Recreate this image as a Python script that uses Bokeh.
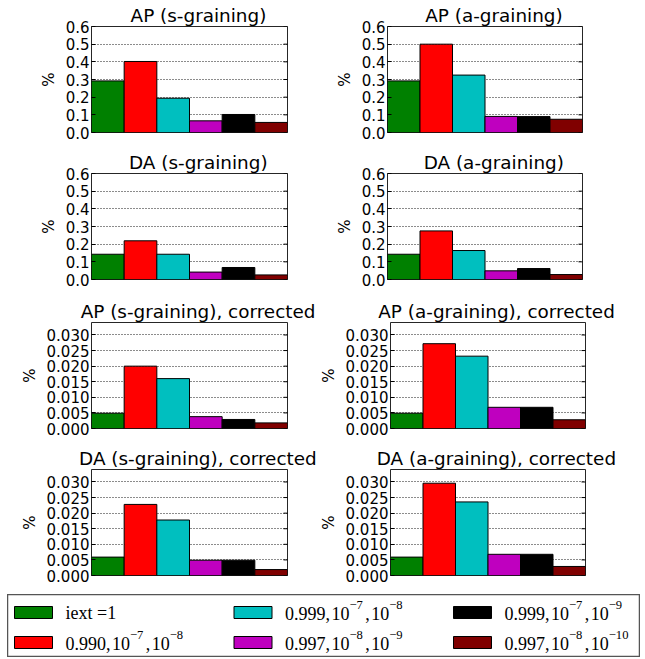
from bokeh.plotting import figure
from bokeh.models import Range1d, PrintfTickFormatter, FixedTicker, ColumnDataSource, Spacer
from bokeh.layouts import column, row
from bokeh.embed import file_html
from bokeh.resources import INLINE
from bokeh.core.properties import value

# ---------------- data ----------------
series_labels = ["iext =1", "0.990,10⁻⁷,10⁻⁸", "0.999,10⁻⁷,10⁻⁸",
                 "0.997,10⁻⁸,10⁻⁹", "0.999,10⁻⁷,10⁻⁹", "0.997,10⁻⁸,10⁻¹⁰"]
colors = ["#008000", "#ff0000", "#00bfbf", "#bf00bf", "#000000", "#800000"]

titles = ["AP (s-graining)", "AP (a-graining)",
          "DA (s-graining)", "DA (a-graining)",
          "AP (s-graining), corrected", "AP (a-graining), corrected",
          "DA (s-graining), corrected", "DA (a-graining), corrected"]

ap_s = [0.292, 0.402, 0.194, 0.066, 0.102, 0.057]
ap_a = [0.292, 0.500, 0.325, 0.091, 0.090, 0.075]
da_s = [0.143, 0.219, 0.143, 0.042, 0.068, 0.026]
da_a = [0.143, 0.275, 0.164, 0.049, 0.062, 0.028]
ap_s_corr = [0.0049, 0.0200, 0.0160, 0.0038, 0.0029, 0.0018]
ap_a_corr = [0.0049, 0.0272, 0.0232, 0.0068, 0.0068, 0.0028]
da_s_corr = [0.0059, 0.0228, 0.0178, 0.0049, 0.0049, 0.0019]
da_a_corr = [0.0059, 0.0296, 0.0236, 0.0068, 0.0068, 0.0029]

ticks_main = [0.0, 0.1, 0.2, 0.3, 0.4, 0.5, 0.6]
ticks_corr = [0.0, 0.005, 0.010, 0.015, 0.020, 0.025, 0.030]

panels = [(ap_s, 0), (ap_a, 0), (da_s, 0), (da_a, 0),
          (ap_s_corr, 1), (ap_a_corr, 1), (da_s_corr, 1), (da_a_corr, 1)]

# ---------------- layout settings ----------------
row_borders = [(26, 15), (26, 17), (26, 15), (26, 19)]
SANS = "DejaVu Sans"
SERIF = "Liberation Serif"
TITLE_FS = 18.4
TITLE_SHIFT = 9      # title centre sits a little right of the frame centre

# DejaVu Sans advance widths (em) used to centre the titles with a shift
sans_adv = {"A": 0.684, "P": 0.603, "D": 0.770, " ": 0.318, "(": 0.390, ")": 0.390,
            "s": 0.521, "-": 0.361, "g": 0.635, "r": 0.411, "a": 0.613, "i": 0.278,
            "n": 0.634, ",": 0.318, "c": 0.550, "o": 0.612, "e": 0.615, "t": 0.392,
            "d": 0.635}


def make_panel(idx, vals, kind):
    col = idx % 2
    r = idx // 2
    top_b, bot_b = row_borders[r]
    fw = 196 if col == 0 else 195
    if kind == 0:
        ymax, ticks, fmt = 0.6, ticks_main, "%.1f"
    else:
        ymax, ticks, fmt = 0.034, ticks_corr, "%.3f"
    xmax = len(vals) - 0.5
    p = figure(frame_width=fw, frame_height=106,
               x_range=Range1d(-0.5, xmax), y_range=Range1d(0, ymax),
               min_border_left=91 if col == 0 else 71,
               min_border_right=29 if col == 0 else 50,
               min_border_top=top_b, min_border_bottom=bot_b,
               output_backend="svg", toolbar_location=None)
    tw = sum(sans_adv.get(c, 0.6) for c in titles[idx]) * TITLE_FS
    p.title.text = titles[idx]
    p.title.text_font = SANS
    p.title.text_font_size = f"{TITLE_FS}px"
    p.title.text_font_style = "normal"
    p.title.text_color = "black"
    p.title.align = "left"
    p.title.offset = (fw - tw) / 2 + TITLE_SHIFT
    p.title.standoff = 1
    p.xaxis.visible = False
    p.xgrid.visible = False
    p.ygrid.grid_line_color = "black"
    p.ygrid.grid_line_dash = "1 2"
    p.ygrid.grid_line_alpha = 0.9
    src = ColumnDataSource(dict(x=list(range(len(vals))), top=vals, color=colors))
    p.vbar(x="x", top="top", width=1.0, bottom=0, fill_color="color",
           line_color="black", line_width=1, source=src)
    # inward tick marks on the right spine (half of each dash is clipped by the frame)
    p.scatter(x=[xmax] * len(ticks), y=ticks, marker="dash", size=8,
              line_color="black", line_width=1)
    ax = p.yaxis[0]
    ax.ticker = FixedTicker(ticks=ticks)
    ax.formatter = PrintfTickFormatter(format=fmt)
    ax.major_tick_in = 4
    ax.major_tick_out = 0
    ax.minor_tick_line_color = None
    ax.axis_line_color = None
    ax.major_label_standoff = 2
    ax.major_label_text_font = SANS
    ax.major_label_text_font_size = "15px"
    ax.major_label_text_color = "black"
    ax.axis_label = "%"
    ax.axis_label_text_font = SANS
    ax.axis_label_text_font_size = "15px"
    ax.axis_label_text_font_style = "normal"
    ax.axis_label_text_color = "black"
    ax.axis_label_standoff = 5
    p.outline_line_color = "black"
    p.outline_line_alpha = 0.85
    p.outline_line_width = 1
    p.background_fill_color = "white"
    return p


figs = [make_panel(i, v, k) for i, (v, k) in enumerate(panels)]

# ---------------- legend ----------------
LW, LH = 633, 63
FS = 18.0            # legend font size in px
SUP = 0.7            # superscript scale
SUP_RAISE = 7.5      # superscript raise in px
COMMA_GAP = 1.5      # math-mode thin space after commas
leg = figure(width=LW, height=LH, x_range=Range1d(0, LW), y_range=Range1d(0, LH),
             min_border=0, output_backend="svg", toolbar_location=None)
leg.axis.visible = False
leg.grid.visible = False
leg.outline_line_color = "#555555"
leg.outline_line_width = 1.5

# approximate advance widths (em) of Liberation Serif, for laying out segments
adv = {c: 0.5 for c in "0123456789x"}
adv.update({".": 0.25, ",": 0.25, "\u2212": 0.75, "=": 0.564, " ": 0.25,
            "i": 0.278, "e": 0.444, "t": 0.278})
sup_map = {"⁻": "\u2212", "⁰": "0", "¹": "1", "²": "2", "³": "3", "⁴": "4",
           "⁵": "5", "⁶": "6", "⁷": "7", "⁸": "8", "⁹": "9"}


def segments(label):
    segs = []
    for ch in label:
        is_sup = ch in sup_map
        c = sup_map.get(ch, ch)
        if segs and segs[-1][1] == is_sup and not segs[-1][0].endswith(","):
            segs[-1][0] += c
        else:
            segs.append([c, is_sup])
    return segs


col_step = 219.5
px = [26 + (i // 2) * col_step for i in range(len(series_labels))]
py = [45 if i % 2 == 0 else 15 for i in range(len(series_labels))]
lsrc = ColumnDataSource(dict(px=px, py=py, color=colors))
leg.rect(x="px", y="py", width=38, height=12, fill_color="color",
         line_color="black", line_width=1, source=lsrc)

nx, ny, nt, sx, sy, st = [], [], [], [], [], []
for i, lab in enumerate(series_labels):
    x = px[i] + 32
    for txt, is_sup in segments(lab):
        size = FS * (SUP if is_sup else 1.0)
        if is_sup:
            sx.append(x); sy.append(py[i] + SUP_RAISE); st.append(txt)
        else:
            nx.append(x); ny.append(py[i] - 0.5); nt.append(txt)
        x += sum(adv.get(c, 0.5) for c in txt) * size
        if txt.endswith(","):
            x += COMMA_GAP

leg.text(x=nx, y=ny, text=nt, text_font=value(SERIF), text_font_size=f"{FS}px",
         text_baseline="middle", text_align="left", text_color="black")
leg.text(x=sx, y=sy, text=st, text_font=value(SERIF), text_font_size=f"{FS * SUP:.1f}px",
         text_baseline="middle", text_align="left", text_color="black")

layout = column(row(figs[0], figs[1]), row(figs[2], figs[3]),
                row(figs[4], figs[5]), row(figs[6], figs[7]),
                row(Spacer(width=7, height=LH), leg))

open("out.html", "w").write(file_html(layout, INLINE))
